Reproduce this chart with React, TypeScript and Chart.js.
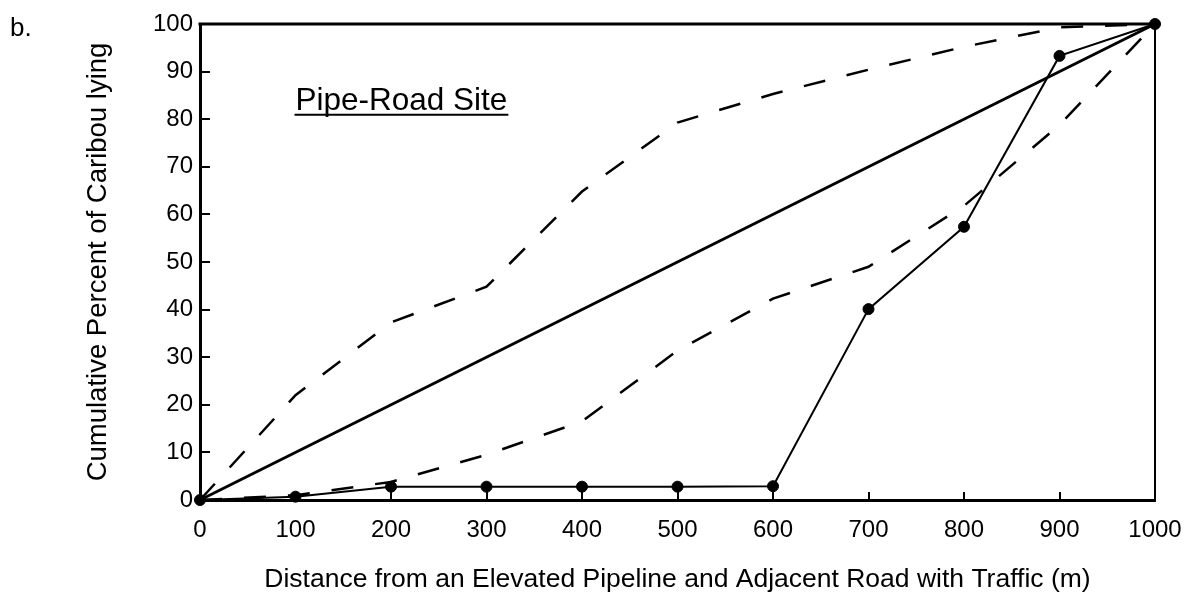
import React, { useEffect, useRef } from "react";
import { Chart, registerables } from "chart.js";

Chart.register(...registerables);

// ---- data ----
const distances = [0, 100, 200, 300, 400, 500, 600, 700, 800, 900, 1000];
const observedPercent = [0, 0.7, 2.8, 2.8, 2.8, 2.8, 2.9, 40.1, 57.4, 93.3, 100];
const upperLimit = [0, 22, 37.3, 44.8, 64.8, 79.3, 85.3, 90.4, 95.2, 99.3, 100];
const lowerLimit = [0, 1, 3.8, 9.5, 16.5, 31.4, 42.3, 49, 61.8, 78.8, 100];
const uniformX = [0, 1000];
const uniformY = [0, 100];

const xTickValues = [0, 100, 200, 300, 400, 500, 600, 700, 800, 900, 1000];
const yTickValues = [0, 10, 20, 30, 40, 50, 60, 70, 80, 90, 100];

const panelLabel = "b.";
const siteLabel = "Pipe-Road Site";
const xTitle = "Distance from an Elevated Pipeline and Adjacent Road with Traffic (m)";
const yTitle = "Cumulative Percent of Caribou lying";

const FONT = "'Liberation Sans', Arial, Helvetica, sans-serif";

const toPoints = (xs: number[], ys: number[]) => xs.map((x, i) => ({ x, y: ys[i] }));

const framePlugin = {
  id: "frameAndLabels",
  afterDraw(chart: any) {
    const { ctx, chartArea, scales } = chart;
    const { left, right, top, bottom } = chartArea;
    const x = scales.x;
    const y = scales.y;
    ctx.save();
    ctx.strokeStyle = "#000";
    // top and right frame
    ctx.lineWidth = 3;
    ctx.beginPath();
    ctx.moveTo(left - 1.5, top);
    ctx.lineTo(right + 1, top);
    ctx.stroke();
    ctx.lineWidth = 2;
    ctx.beginPath();
    ctx.moveTo(right, top);
    ctx.lineTo(right, bottom + 1);
    ctx.stroke();
    // inward ticks
    ctx.lineWidth = 2;
    ctx.beginPath();
    xTickValues.forEach((v) => {
      if (v === xTickValues[0] || v === xTickValues[xTickValues.length - 1]) return;
      const px = Math.round(x.getPixelForValue(v));
      ctx.moveTo(px, bottom);
      ctx.lineTo(px, bottom - 8);
    });
    yTickValues.forEach((v) => {
      if (v === yTickValues[0] || v === yTickValues[yTickValues.length - 1]) return;
      const py = Math.round(y.getPixelForValue(v));
      ctx.moveTo(left, py);
      ctx.lineTo(left + 10, py);
    });
    ctx.stroke();

    // panel label
    ctx.fillStyle = "#000";
    ctx.font = `26px ${FONT}`;
    ctx.textAlign = "left";
    ctx.textBaseline = "alphabetic";
    ctx.fillText(panelLabel, 10, 36);

    // site label, underlined
    ctx.font = `31.5px ${FONT}`;
    const sx = x.getPixelForValue(100);
    const sy = y.getPixelForValue(82);
    ctx.fillText(siteLabel, sx, sy);
    const w = ctx.measureText(siteLabel).width;
    ctx.lineWidth = 2;
    ctx.beginPath();
    ctx.moveTo(sx - 1, sy + 5);
    ctx.lineTo(sx + w + 1, sy + 5);
    ctx.stroke();
    ctx.restore();
  },
};

export default function App() {
  const canvasRef = useRef<HTMLCanvasElement | null>(null);

  useEffect(() => {
    const canvas = canvasRef.current;
    if (!canvas) return;
    const chart = new Chart(canvas, {
      type: "scatter",
      data: {
        datasets: [
          {
            label: "Upper limit",
            data: toPoints(distances, upperLimit),
            showLine: true,
            borderColor: "#000",
            borderWidth: 2.5,
            borderDash: [22, 22],
            pointRadius: 0,
            fill: false,
            clip: false,
          },
          {
            label: "Lower limit",
            data: toPoints(distances, lowerLimit),
            showLine: true,
            borderColor: "#000",
            borderWidth: 2.5,
            borderDash: [22, 22],
            pointRadius: 0,
            fill: false,
            clip: false,
          },
          {
            label: "Uniform",
            data: toPoints(uniformX, uniformY),
            showLine: true,
            borderColor: "#000",
            borderWidth: 3,
            pointRadius: 0,
            fill: false,
            clip: false,
          },
          {
            label: "Observed",
            data: toPoints(distances, observedPercent),
            showLine: true,
            borderColor: "#000",
            borderWidth: 2,
            pointRadius: 5.5,
            pointBackgroundColor: "#000",
            pointBorderColor: "#000",
            pointBorderWidth: 1,
            fill: false,
            clip: false,
          },
        ],
      },
      options: {
        animation: false,
        responsive: false,
        maintainAspectRatio: false,
        events: [],
        layout: { padding: { left: 0, right: 46, top: 24, bottom: 0 } },
        plugins: {
          legend: { display: false },
          tooltip: { enabled: false },
        },
        scales: {
          x: {
            type: "linear",
            min: 0,
            max: 1000,
            afterBuildTicks: (scale: any) => {
              scale.ticks = xTickValues.map((v) => ({ value: v }));
            },
            afterFit: (scale: any) => {
              scale.height = 96;
            },
            grid: { display: false, drawTicks: false },
            border: { display: true, color: "#000", width: 3 },
            ticks: {
              color: "#000",
              font: { family: FONT, size: 24 },
              padding: 16,
              maxRotation: 0,
              autoSkip: false,
              callback: (v: any) => String(v),
            },
            title: {
              display: true,
              text: xTitle,
              color: "#000",
              font: { family: FONT, size: 26.5 },
              padding: { top: 0, bottom: 0 },
            },
          },
          y: {
            type: "linear",
            min: 0,
            max: 100,
            afterBuildTicks: (scale: any) => {
              scale.ticks = yTickValues.map((v) => ({ value: v }));
            },
            afterFit: (scale: any) => {
              scale.width = 200;
            },
            grid: { display: false, drawTicks: false },
            border: { display: true, color: "#000", width: 3 },
            ticks: {
              color: "#000",
              font: { family: FONT, size: 24 },
              padding: 7,
              autoSkip: false,
              callback: (v: any) => String(v),
            },
            title: {
              display: true,
              text: yTitle,
              color: "#000",
              font: { family: FONT, size: 27.5 },
              padding: { top: 82, bottom: 0 },
            },
          },
        },
      },
      plugins: [framePlugin],
    });
    return () => chart.destroy();
  }, []);

  return (
    <div style={{ position: "fixed", left: 0, top: 0, width: 1201, height: 596, background: "#fff" }}>
      <canvas ref={canvasRef} width={1201} height={596} style={{ display: "block" }} />
    </div>
  );
}
